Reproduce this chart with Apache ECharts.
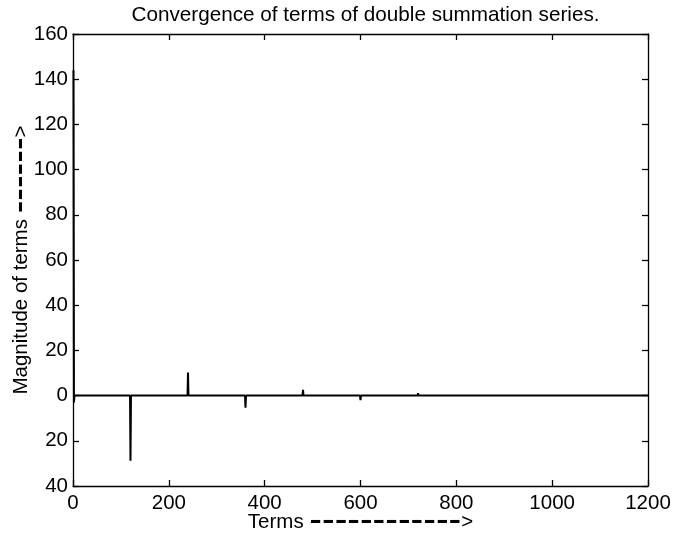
<!DOCTYPE html>
<html>
<head>
<meta charset="utf-8">
<script src="https://cdn.jsdelivr.net/npm/echarts@6/dist/echarts.min.js"></script>
<style>html,body{margin:0;padding:0;background:#fff}#c{width:690px;height:538px}</style>
</head>
<body>
<div id="c"></div>
<script>
// Data
const spikeTerms  = [1,   2,  61,  120,   181,  240,  301,  360,  421,  480, 600,  720, 840,  960, 1080];
const spikeValues = [144, -3, 0.4, -28.8, -0.4, 10.2, -0.4, -5.4, -0.3, 2.6, -2.0, 1.1, -0.8, 0.5, -0.4];
const xTicks = [0, 200, 400, 600, 800, 1000, 1200];
const yTicks = [-40, -20, 0, 20, 40, 60, 80, 100, 120, 140, 160];
const yTickLabels = ['40', '20', '0', '20', '40', '60', '80', '100', '120', '140', '160'];
const lastTerm = 1200;

// build line: zero baseline with one-term spikes
const lineData = [];
for (let i = 0; i < spikeTerms.length; i++) {
  const n = spikeTerms[i];
  const last = lineData.length ? lineData[lineData.length - 1][0] : 0;
  if (n - 1 > last) lineData.push([n - 1, 0]);
  lineData.push([n, spikeValues[i]]);
  const next = i + 1 < spikeTerms.length ? spikeTerms[i + 1] : lastTerm + 1;
  if (next > n + 1) lineData.push([n + 1, 0]);
}
lineData.push([lastTerm, 0]);

const FONT = 'Liberation Sans, Arial, Helvetica, sans-serif';
const chart = echarts.init(document.getElementById('c'), null, {renderer: 'canvas'});
const axisCommon = {
  axisLine: {show: true, onZero: false, lineStyle: {color: '#000', width: 1.3}},
  axisTick: {show: true, inside: true, length: 6, lineStyle: {color: '#000', width: 1.3}},
  splitLine: {show: false}
};
const FS = 20.5;
const nameRich = {
  t: {fontFamily: FONT, fontSize: FS, color: '#000', lineHeight: 24, verticalAlign: 'middle'},
  d: {fontFamily: FONT, fontSize: 38, color: '#000', lineHeight: 24, verticalAlign: 'middle'},
  a: {fontFamily: FONT, fontSize: FS, color: '#000', lineHeight: 24, verticalAlign: 'middle'}
};
chart.setOption({
  animation: false,
  backgroundColor: '#fff',
  title: {
    text: 'Convergence of terms of double summation series.',
    left: 360.5, top: 0, textAlign: 'center',
    textStyle: {fontFamily: FONT, fontSize: 20.7, fontWeight: 'normal', color: '#000'}
  },
  grid: {left: 73, right: 42, top: 34, bottom: 52, outerBoundsMode: 'none', containLabel: false},
  xAxis: [
    Object.assign({
      type: 'value', min: 0, max: 1200, interval: 200, position: 'bottom',
      name: '{t|Terms }{d|------------}{a|>}', nameLocation: 'middle', nameGap: 24, nameMoveOverlap: false,
      nameTextStyle: {fontFamily: FONT, fontSize: FS, color: '#000', lineHeight: 24, rich: nameRich},
      axisLabel: {fontFamily: FONT, fontSize: FS, color: '#000', margin: 7,
        formatter: v => xTicks.indexOf(v) >= 0 ? String(v) : ''}
    }, axisCommon),
    Object.assign({
      type: 'value', min: 0, max: 1200, interval: 200, position: 'top',
      axisLabel: {show: false}
    }, axisCommon)
  ],
  yAxis: [
    Object.assign({
      type: 'value', min: -40, max: 160, interval: 20, position: 'left',
      name: '{t|Magnitude of terms }{d|------}{a|>}', nameLocation: 'middle', nameGap: 40, nameMoveOverlap: false,
      nameTextStyle: {fontFamily: FONT, fontSize: FS, color: '#000', lineHeight: 24, rich: nameRich},
      axisLabel: {fontFamily: FONT, fontSize: FS, color: '#000', margin: 5,
        formatter: v => { const i = yTicks.indexOf(v); return i >= 0 ? yTickLabels[i] : ''; }}
    }, axisCommon),
    Object.assign({
      type: 'value', min: -40, max: 160, interval: 20, position: 'right',
      axisLabel: {show: false}
    }, axisCommon)
  ],
  series: [{
    type: 'line',
    data: lineData,
    xAxisIndex: 0, yAxisIndex: 0,
    showSymbol: false,
    clip: false,
    lineStyle: {color: '#000', width: 2},
    silent: true, z: 10
  }]
});
</script>
</body>
</html>
